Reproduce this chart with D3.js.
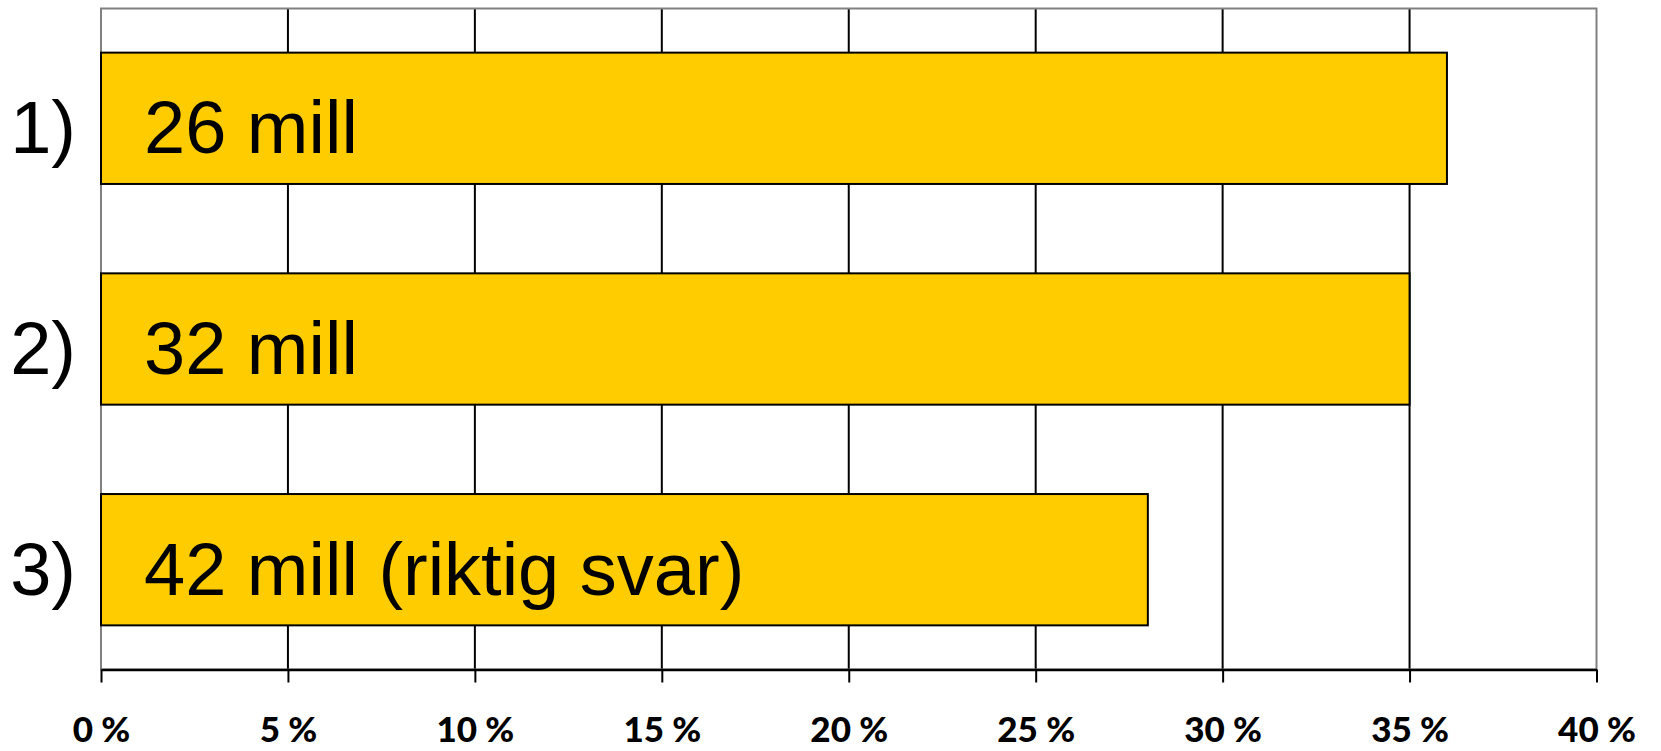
<!DOCTYPE html>
<html>
<head>
<meta charset="utf-8">
<script src="https://cdn.jsdelivr.net/npm/d3@7"></script>
<style>
  body { margin: 0; background: #fff; }
  svg { display: block; }
</style>
</head>
<body>
<script>
// chart values
const categories = ['1)', '2)', '3)']
const barLabels = ['26 mill', '32 mill', '42 mill (riktig svar)']
const percentages = [36, 35, 28]
const tickValues = [0, 5, 10, 15, 20, 25, 30, 35, 40]

const width = 1661
const height = 751
const margin = {top: 8.5, right: 64.5, bottom: 81.5, left: 101}
const plotW = width - margin.left - margin.right
const plotH = height - margin.top - margin.bottom

const svg = d3.select('body').append('svg')
  .attr('width', width)
  .attr('height', height)

svg.append('rect').attr('width', width).attr('height', height).attr('fill', '#fff')

const g = svg.append('g')
  .attr('transform', `translate(${margin.left},${margin.top})`)

const xScale = d3.scaleLinear().domain([0, 40]).range([0, plotW])
const yScale = d3.scaleBand().domain(categories).range([0, plotH])
  .paddingInner(0.405).paddingOuter(0.2)

// vertical gridlines
g.selectAll('.grid')
  .data(tickValues.filter(d => d > 0 && d < 40))
  .enter()
  .append('line')
  .attr('class', 'grid')
  .attr('x1', d => xScale(d))
  .attr('x2', d => xScale(d))
  .attr('y1', 0)
  .attr('y2', plotH)
  .attr('stroke', '#000')
  .attr('stroke-width', 2)

// plot border (grey)
g.append('rect')
  .attr('x', 0)
  .attr('y', 0)
  .attr('width', plotW)
  .attr('height', plotH)
  .attr('fill', 'none')
  .attr('stroke', '#808080')
  .attr('stroke-width', 2)

// bars
const bars = g.selectAll('.bar')
  .data(categories.map((c, i) => ({cat: c, val: percentages[i], label: barLabels[i]})))
  .enter()

bars.append('rect')
  .attr('class', 'bar')
  .attr('x', 0)
  .attr('y', d => yScale(d.cat))
  .attr('width', d => xScale(d.val))
  .attr('height', yScale.bandwidth())
  .attr('fill', '#FFCC00')
  .attr('stroke', '#000')
  .attr('stroke-width', 2)

bars.append('text')
  .attr('x', 43)
  .attr('y', d => yScale(d.cat) + yScale.bandwidth() / 2 + 35)
  .style('font-family', '"Liberation Sans", Arial, sans-serif')
  .style('font-size', '74px')
  .attr('fill', '#000')
  .text(d => d.label)

// x axis
const xAxis = g.append('g')
  .attr('transform', `translate(0,${plotH})`)
  .call(d3.axisBottom(xScale)
    .tickValues(tickValues)
    .tickSize(13)
    .tickSizeOuter(0)
    .tickPadding(35)
    .tickFormat(d => `${d} %`))

xAxis.select('.domain').attr('stroke', '#000').attr('stroke-width', 2.5)
xAxis.selectAll('.tick line').attr('stroke', '#000').attr('stroke-width', 2)
xAxis.selectAll('.tick text')
  .style('font-family', 'Lato, "Open Sans", sans-serif')
  .style('font-weight', 900)
  .style('font-size', '35px')
  .attr('fill', '#000')

// y axis (category labels)
const yAxis = g.append('g')
  .call(d3.axisLeft(yScale).tickSize(0).tickPadding(25))

yAxis.select('.domain').remove()
yAxis.selectAll('.tick text')
  .attr('dy', 35)
  .style('font-family', '"Liberation Sans", Arial, sans-serif')
  .style('font-size', '74px')
  .attr('fill', '#000')
</script>
</body>
</html>
